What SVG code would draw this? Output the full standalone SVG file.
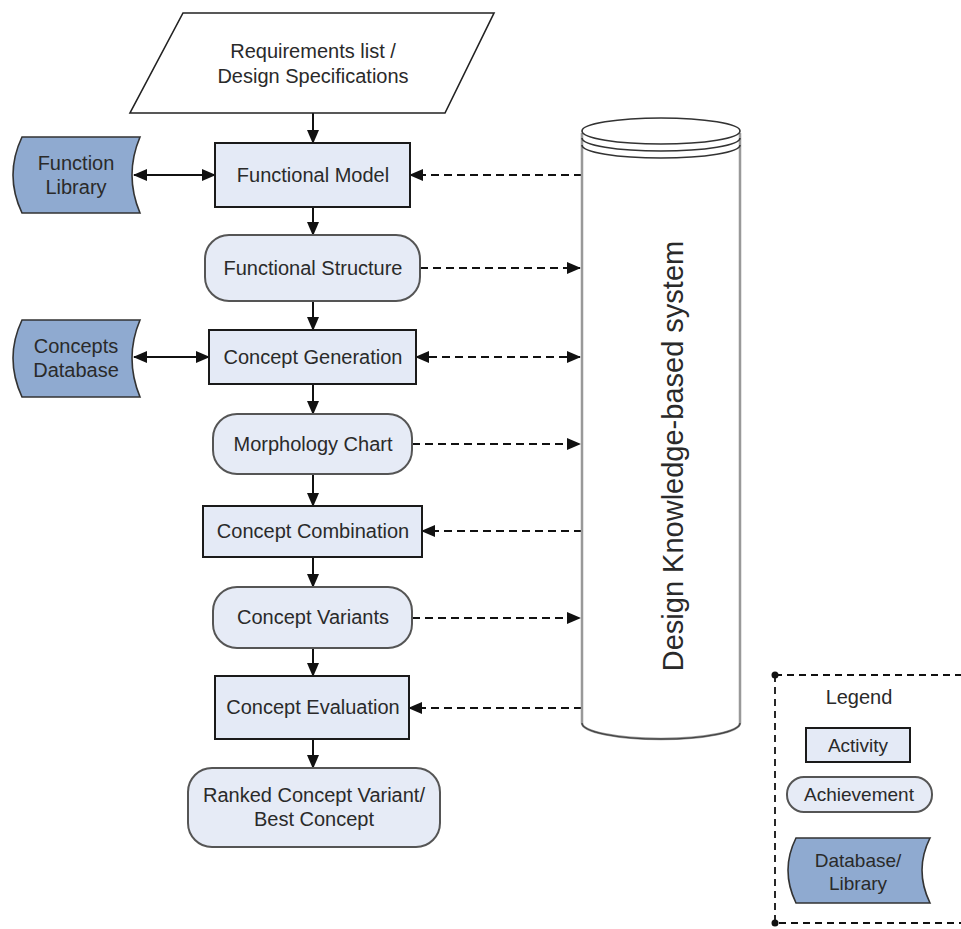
<svg xmlns="http://www.w3.org/2000/svg" width="961" height="929" viewBox="0 0 961 929">
<defs>
<marker id="ah" markerUnits="userSpaceOnUse" markerWidth="14" markerHeight="12" refX="13" refY="6" orient="auto-start-reverse" viewBox="0 0 14 12">
<path d="M0,0 L14,6 L0,12 Z" fill="#111"/>
</marker>
</defs>
<style>
text{font-family:"Liberation Sans",Arial,sans-serif;font-size:20px;fill:#2a2a2a;text-anchor:middle}
.act{fill:#e4eaf6;stroke:#1a1a1a;stroke-width:2}
.ach{fill:#e6ebf6;stroke:#555;stroke-width:2}
.db{fill:#8faad0;stroke:#333;stroke-width:1.6}
.io{fill:#fff;stroke:#222;stroke-width:1.6}
.sol{fill:none;stroke:#111;stroke-width:2}
.dash{fill:none;stroke:#111;stroke-width:1.8;stroke-dasharray:8 5}
</style>
<rect width="961" height="929" fill="#fff"/>
<g id="connectors">
<line class="sol" x1="313" y1="113" x2="313" y2="143" marker-end="url(#ah)"/>
<line class="sol" x1="313" y1="207" x2="313" y2="235" marker-end="url(#ah)"/>
<line class="sol" x1="313" y1="301" x2="313" y2="330" marker-end="url(#ah)"/>
<line class="sol" x1="313" y1="384" x2="313" y2="414" marker-end="url(#ah)"/>
<line class="sol" x1="313" y1="474" x2="313" y2="506" marker-end="url(#ah)"/>
<line class="sol" x1="313" y1="557" x2="313" y2="587" marker-end="url(#ah)"/>
<line class="sol" x1="313" y1="648" x2="313" y2="676" marker-end="url(#ah)"/>
<line class="sol" x1="313" y1="739" x2="313" y2="768" marker-end="url(#ah)"/>
<line class="sol" x1="134" y1="175" x2="215" y2="175" marker-start="url(#ah)" marker-end="url(#ah)"/>
<line class="sol" x1="134" y1="357" x2="209" y2="357" marker-start="url(#ah)" marker-end="url(#ah)"/>
<line class="dash" x1="582" y1="175" x2="410" y2="175" marker-end="url(#ah)"/>
<line class="dash" x1="420" y1="268" x2="580" y2="268" marker-end="url(#ah)"/>
<line class="dash" x1="416" y1="357" x2="580" y2="357" marker-start="url(#ah)" marker-end="url(#ah)"/>
<line class="dash" x1="412" y1="444" x2="580" y2="444" marker-end="url(#ah)"/>
<line class="dash" x1="582" y1="531" x2="422" y2="531" marker-end="url(#ah)"/>
<line class="dash" x1="412" y1="618" x2="580" y2="618" marker-end="url(#ah)"/>
<line class="dash" x1="582" y1="708" x2="409" y2="708" marker-end="url(#ah)"/>
</g>
<g id="requirements">
<path class="io" d="M183 13 L494 13 L445 113 L130 113 Z"/>
<text x="313" y="58">Requirements list /</text>
<text x="313" y="83">Design Specifications</text>
</g>
<g id="function-library">
<path class="db" d="M22 137 L140 137 Q124 175 140 213 L22 213 Q4 175 22 137 Z"/>
<text x="76" y="170">Function</text>
<text x="76" y="194">Library</text>
</g>
<g id="functional-model">
<rect class="act" x="215" y="143" width="195" height="64"/>
<text x="313" y="182">Functional Model</text>
</g>
<g id="functional-structure">
<rect class="ach" x="205" y="235" width="215" height="66" rx="24"/>
<text x="313" y="275">Functional Structure</text>
</g>
<g id="concepts-database">
<path class="db" d="M22 320 L140 320 Q124 358 140 397 L22 397 Q4 358 22 320 Z"/>
<text x="76" y="353">Concepts</text>
<text x="76" y="377">Database</text>
</g>
<g id="concept-generation">
<rect class="act" x="209" y="330" width="207" height="54"/>
<text x="313" y="364">Concept Generation</text>
</g>
<g id="morphology-chart">
<rect class="ach" x="213" y="414" width="199" height="60" rx="24"/>
<text x="313" y="451">Morphology Chart</text>
</g>
<g id="concept-combination">
<rect class="act" x="203" y="506" width="219" height="51"/>
<text x="313" y="538">Concept Combination</text>
</g>
<g id="concept-variants">
<rect class="ach" x="213" y="587" width="199" height="61" rx="24"/>
<text x="313" y="624">Concept Variants</text>
</g>
<g id="concept-evaluation">
<rect class="act" x="215" y="676" width="194" height="63"/>
<text x="313" y="714">Concept Evaluation</text>
</g>
<g id="ranked-concept">
<rect class="ach" x="188" y="768" width="252" height="79" rx="24"/>
<text x="314" y="802">Ranked Concept Variant/</text>
<text x="314" y="826">Best Concept</text>
</g>
<g id="knowledge-system">
<path d="M582 133 L582 723 A79 16 0 0 0 740 723 L740 133" fill="#fff" stroke="#999" stroke-width="2.5"/>
<path d="M582 723 A79 16 0 0 0 740 723" fill="none" stroke="#444" stroke-width="1.4"/>
<ellipse cx="661" cy="131" rx="79" ry="13" fill="#fff" stroke="#333" stroke-width="1.6"/>
<path d="M582 138 A79 13 0 0 0 740 138" fill="none" stroke="#333" stroke-width="1.6"/>
<path d="M582 145 A79 13 0 0 0 740 145" fill="none" stroke="#333" stroke-width="1.6"/>
<text transform="translate(683 456) rotate(-90)" style="font-size:29px">Design Knowledge-based system</text>
</g>
<g id="legend">
<path d="M775 675 L961 675 M775 675 L775 923 L961 923" fill="none" stroke="#111" stroke-width="1.8" stroke-dasharray="7 5"/>
<circle cx="775" cy="675" r="3.5" fill="#111"/>
<circle cx="775" cy="923" r="3.5" fill="#111"/>
<text x="859" y="704">Legend</text>
<rect class="act" x="806" y="728" width="104" height="34"/>
<text x="858" y="752" style="font-size:19px">Activity</text>
<rect class="ach" x="787" y="777" width="145" height="35" rx="17"/>
<text x="859" y="801" style="font-size:19px">Achievement</text>
<path class="db" d="M796 838 L930 838 Q914 870 930 903 L796 903 Q780 870 796 838 Z"/>
<text x="858" y="867" style="font-size:19px">Database/</text>
<text x="858" y="890" style="font-size:19px">Library</text>
</g>
</svg>
